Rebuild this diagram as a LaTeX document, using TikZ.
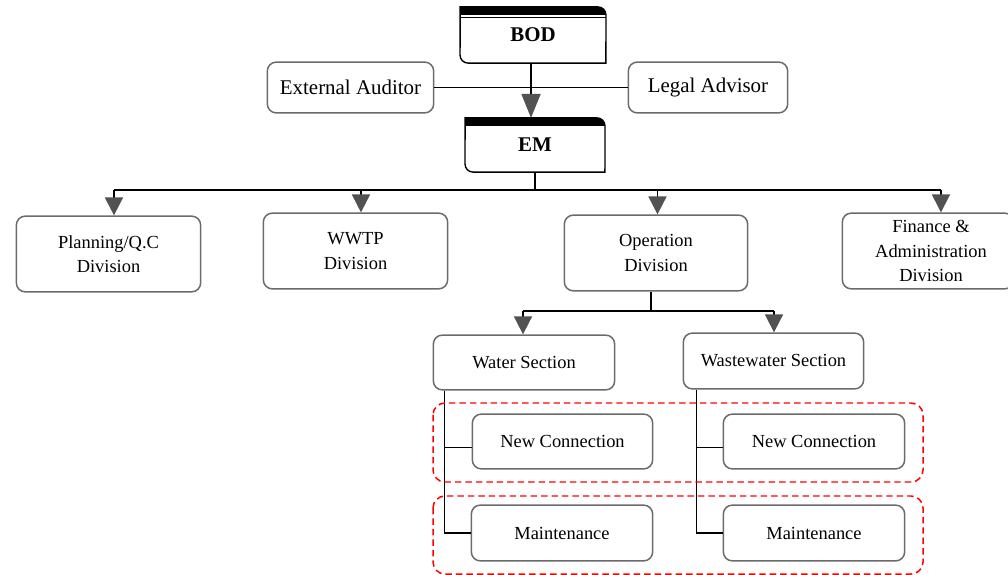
\documentclass[tikz,border=0pt]{standalone}
\usepackage{fontspec}
\setmainfont{Liberation Serif}
\usetikzlibrary{arrows.meta}
\tikzset{
  unit/.style={rounded corners=9, draw=black!58, line width=1.5, fill=white,
    align=center, inner sep=0pt, font=\fontsize{18.5}{24.5}\selectfont},
  side/.style={unit, font=\fontsize{21}{25}\selectfont},
  head/.style={inner sep=0pt, font=\fontsize{21}{25}\selectfont\bfseries},
  link/.style={line width=1.8},
  down/.style={link, -{Triangle[width=18, length=18, color=black!68]}},
  group/.style={draw=red, dash pattern=on 6.5 off 4, line width=1.5, rounded corners=12}
}

\begin{document}
\begin{tikzpicture}[x=1bp, y=1bp]
  \clip (0,0) rectangle (1008,-575);

  % board and management
  \node [head, minimum width=146, minimum height=56] (bod) at (533,-35) {BOD};
  \node [head, minimum width=140, minimum height=54] (em) at (535,-145) {EM};
  \node [side, minimum width=167, minimum height=51] (aud) at (350.5,-87.5) {External Auditor};
  \node [side, minimum width=160, minimum height=51] (legal) at (708,-87.5) {Legal Advisor};

  \fill (bod.north west) -- ([xshift=-8]bod.north east) arc[start angle=90, end angle=0, radius=8]
    -- ([yshift=-8]bod.north east) -- ([yshift=-8]bod.north west) -- cycle;
  \draw [line width=0.8] ([yshift=-11]bod.north west) -- ([yshift=-11]bod.north east);
  \draw [line width=1.4] (bod.north west) -- ([xshift=-8]bod.north east) arc[start angle=90, end angle=0, radius=8]
    -- (bod.south east) -- ([xshift=8]bod.south west) arc[start angle=270, end angle=180, radius=8] -- cycle;

  \fill (em.north west) -- ([xshift=-8]em.north east) arc[start angle=90, end angle=0, radius=8]
    -- ([yshift=-8]em.north east) -- ([yshift=-8]em.north west) -- cycle;
  \draw [line width=1.4] (em.north west) -- ([xshift=-8]em.north east) arc[start angle=90, end angle=0, radius=8]
    -- (em.south east) -- ([xshift=8]em.south west) arc[start angle=270, end angle=180, radius=8] -- cycle;

  \draw [link] (aud) -- (legal);
  \draw [link, -{Triangle[width=19, length=24, color=black!68]}]
    ([xshift=-2]bod.south) -- ([xshift=-2]bod.south |- em.north);

  % divisions
  \node [unit, minimum width=185, minimum height=76] (plan) at (108.5,-254) {Planning/Q.C\\Division};
  \node [unit, minimum width=185, minimum height=76] (wwtp) at (355.5,-251) {WWTP\\Division};
  \node [unit, minimum width=184, minimum height=76] (oper) at (656,-253) {Operation\\Division};
  \node [unit, minimum width=172, minimum height=76] (fin) at (928,-251) {\hspace*{6bp}Finance \&\\\hspace*{6bp}Administration\\\hspace*{6bp}Division};

  \coordinate (busL) at (114,-190);
  \coordinate (busR) at (941,-190);
  \draw [link] (em) -- (em |- busL);
  \draw [link] (busL) -- (busR);
  \foreach \n/\dx in {plan/5.5, wwtp/5.5, oper/1.5, fin/13}
    \draw [down] ([xshift=\dx]\n.north |- busL) -- ([xshift=\dx]\n.north);

  % sections
  \node [unit, minimum width=182, minimum height=55] (wsec) at (524,-362.5) {Water Section};
  \node [unit, minimum width=181, minimum height=56] (wwsec) at (773.5,-361) {Wastewater Section};

  \coordinate (opL) at (523,-311);
  \coordinate (opR) at (774,-311);
  \draw [link] ([xshift=-5]oper.south) -- ([xshift=-5]oper.south |- opL);
  \draw [link] (opL) -- (opR);
  \draw [down] (opL) -- (opL |- wsec.north);
  \draw [down] (opR) -- (opR |- wwsec.north);

  % units
  \node [unit, minimum width=181, minimum height=55] (nc1) at (562.5,-441.5) {New Connection};
  \node [unit, minimum width=182, minimum height=56] (mt1) at (562,-533) {Maintenance};
  \node [unit, minimum width=182, minimum height=55] (nc2) at (814,-441.5) {New Connection};
  \node [unit, minimum width=182, minimum height=56] (mt2) at (814,-533) {Maintenance};

  \coordinate (wtrunk) at ([xshift=12]wsec.south west);
  \coordinate (wwtrunk) at ([xshift=14]wwsec.south west);
  \draw [link] (wtrunk) |- (mt1.west);
  \draw [link] ([yshift=-6]nc1.west) -- ([yshift=-6]nc1.west -| wtrunk);
  \draw [link] (wwtrunk) |- (mt2.west);
  \draw [link] ([yshift=-6]nc2.west) -- ([yshift=-6]nc2.west -| wwtrunk);

  \draw [group] (433,-403) rectangle (923,-482);
  \draw [group] (433,-496) rectangle (923,-574);
\end{tikzpicture}
\end{document}
